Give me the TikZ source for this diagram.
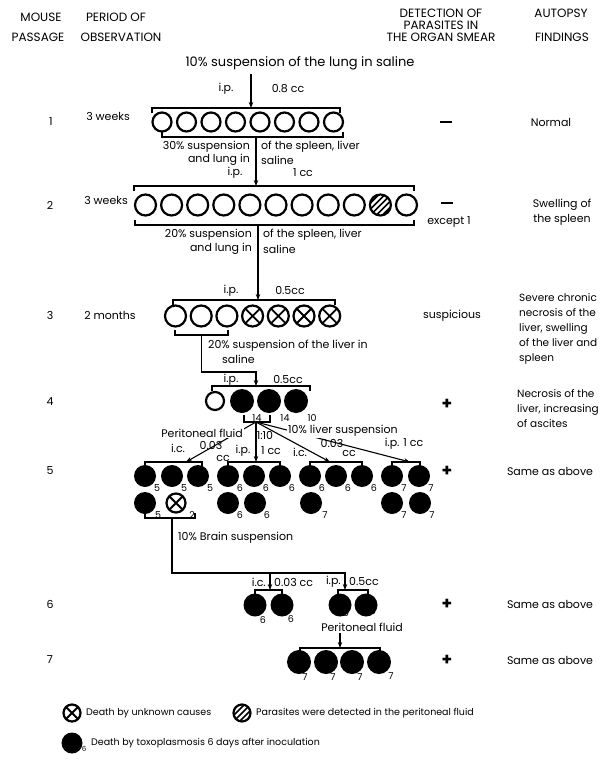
\documentclass[tikz,border=0pt]{standalone}
\usepackage{fontspec}
\setmainfont{Poppins}
\usetikzlibrary{arrows.meta}
\newcommand\mybrk[4]{\draw[brk] (#1,#4) -- (#1,#3) -- (#2,#3) -- (#2,#4);}
\begin{document}
\begin{tikzpicture}[x=1pt,y=-1pt,
  t/.style={font=\fontsize{11}{12}\selectfont, inner sep=0pt},
  tw/.style={t, fill=white, inner sep=1pt},
  hd/.style={font=\fontsize{12}{13}\selectfont, inner sep=0pt},
  nm/.style={font=\fontsize{9.5}{10}\selectfont, inner sep=0pt},
  lg/.style={font=\fontsize{9.5}{11}\selectfont, inner sep=0pt, anchor=west},
  blk/.style={t, align=left, anchor=north west, font=\fontsize{10.5}{15}\selectfont},
  oc/.style={circle, draw, fill=white, line width=2.2pt, minimum size=19pt, inner sep=0pt},
  xc/.style={oc, path picture={\draw[line width=1.8pt]
      (path picture bounding box.south west) -- (path picture bounding box.north east)
      (path picture bounding box.north west) -- (path picture bounding box.south east);}},
  hc/.style={oc, path picture={\foreach \k in {-9,-6,-3,0,3,6,9}{\draw[line width=1.6pt]
      ([xshift=\k pt, yshift=-\k pt]path picture bounding box.center) ++(-14pt,-14pt) -- ++(28pt,28pt);}}},
  bc/.style={circle, fill=black, minimum size=22pt, inner sep=0pt},
  brk/.style={line width=1.1pt},
  arr/.style={line width=1.1pt, -{Stealth[length=6pt,width=4.5pt]}},
  pl/.style={font=\fontsize{17}{17}\selectfont\bfseries, inner sep=0pt},
  mi/.style={inner sep=0pt}
]
\useasboundingbox (0,0) rectangle (610,760);

% ---------- header ----------
\node[hd] (hm1) at (41,17) {MOUSE};
\node[hd] (hm2) at (38,37) {PASSAGE};
\node[hd] (hp1) at (116,17) {PERIOD OF};
\node[hd] (hp2) at (121,37) {OBSERVATION};
\node[hd] (hd1) at (441,13) {DETECTION OF};
\node[hd] (hd2) at (441,25) {PARASITES IN};
\node[hd] (hd3) at (441,37) {THE ORGAN SMEAR};
\node[hd] (ha1) at (561,13) {AUTOPSY};
\node[hd] (ha2) at (562,37) {FINDINGS};

% ---------- row labels ----------
\node[t] (p1) at (51,122) {1};
\node[t] (p2) at (50,205) {2};
\node[t] (p3) at (50,315) {3};
\node[t] (p4) at (50,402) {4};
\node[t] (p5) at (50,471) {5};
\node[t] (p6) at (50,604) {6};
\node[t] (p7) at (50,660) {7};
\node[t] (o1) at (108,116) {3 weeks};
\node[t] (o2) at (106,200) {3 weeks};
\node[t] (o3) at (110,315) {2 months};

% ---------- detection column ----------
\node[mi] (d1) at (446,122) {\rule{12pt}{2.6pt}};
\node[mi] (d2) at (447,203) {\rule{12pt}{2.6pt}};
\node[t] (d2b) at (449,222) {except 1};
\node[t] (d3) at (452,316) {suspicious};
\node[pl] (d4) at (447,404) {+};
\node[pl] (d5) at (447,471) {+};
\node[pl] (d6) at (447,604) {+};
\node[pl] (d7) at (447,660) {+};

% ---------- autopsy column ----------
\node[t] (a1) at (551,122) {Normal};
\node[t, align=center, font=\fontsize{11}{15}\selectfont] (a2) at (562,212) {Swelling of\\the spleen};
\node[blk] (a3) at (519,293) {Severe chronic\\necrosis of the\\liver, swelling\\of the liver and\\spleen};
\node[blk] (a4) at (517,389) {Necrosis of the\\liver, increasing\\of ascites};
\node[t] (a5) at (550,471) {Same as above};
\node[t] (a6) at (550,604) {Same as above};
\node[t] (a7) at (550,660) {Same as above};

% ---------- passage 1 ----------
\node[t, font=\fontsize{13}{14}\selectfont] (ti) at (300,63) {10\% suspension of the lung in saline};
\coordinate (a0s) at (251,74);
\coordinate (a0e) at (251,108);
\draw[arr] (a0s) -- (a0e);
\node[t] (ip1) at (226,89) {i.p.};
\node[t] (cc1) at (288,89) {0.8 cc};
\mybrk{152}{340}{108}{113}
\foreach \i in {0,...,7} \node[oc] (r1c\i) at ({162+24.5*\i},122) {};
\mybrk{162}{343}{137}{132}

% ---------- passage 2 ----------
\coordinate (a1s) at (256,137);
\coordinate (a1e) at (256,186);
\draw[arr] (a1s) -- (a1e);
\node[t, anchor=east] (s2a) at (250,147) {30\% suspension};
\node[t, anchor=west] (s2b) at (261,147) {of the spleen, liver};
\node[t, anchor=east] (s2c) at (250,160) {and lung in};
\node[t, anchor=west] (s2d) at (261,160) {saline};
\node[t] (ip2) at (235,173) {i.p.};
\node[t] (cc2) at (303,173) {1 cc};
\mybrk{134}{414}{186}{191}
\foreach \i in {0,...,8,10} \node[oc, minimum size=21pt] (r2c\i) at ({145.5+26.1*\i},205) {};
\node[hc, minimum size=21pt] (r2c9) at ({145.5+26.1*9},205) {};
\mybrk{135}{414}{225}{220}

% ---------- passage 3 ----------
\coordinate (a2s) at (258,225);
\coordinate (a2e) at (258,300);
\draw[arr] (a2s) -- (a2e);
\node[t, anchor=east] (s3a) at (252,235) {20\% suspension};
\node[t, anchor=west] (s3b) at (263,235) {of the spleen, liver};
\node[t, anchor=east] (s3c) at (252,249) {and lung in};
\node[t, anchor=west] (s3d) at (263,249) {saline};
\node[t] (ip3) at (231,291) {i.p.};
\node[t] (cc3) at (290,291) {0.5cc};
\mybrk{173}{335}{300}{305}
\foreach \i in {0,1,2} \node[oc, minimum size=21pt] (r3c\i) at ({175.5+25.7*\i},316) {};
\foreach \i in {3,...,6} \node[xc, minimum size=21pt] (r3c\i) at ({175.5+25.7*\i},316) {};
\mybrk{175}{228}{335}{330}

% ---------- passage 4 ----------
\coordinate (b3) at (201.5,335);
\coordinate (a3e) at (256,386);
\draw[arr] (b3) |- (256,372) -- (a3e);
\node[t, anchor=west] (s4a) at (208,346) {20\% suspension of the liver in};
\node[t, anchor=west] (s4b) at (222,359) {saline};
\node[t] (ip4) at (231,380) {i.p.};
\node[t] (cc4) at (288,380) {0.5cc};
\mybrk{212}{310}{386}{391}
\node[oc, minimum size=18pt] (r4c0) at (215,401) {};
\node[bc, minimum size=24pt] (r4c1) at (242,401) {};
\node[bc, minimum size=24pt] (r4c2) at (269,401) {};
\node[bc, minimum size=24pt] (r4c3) at (296,401) {};
\node[nm] (r4n1) at (257,418) {14};
\node[nm] (r4n2) at (285,418) {14};
\node[nm] (r4n3) at (312,418) {10};
\mybrk{244}{270}{422}{415}

% ---------- passage 5 ----------
\coordinate (S) at (256,422);
\coordinate (g1t) at (186,462);
\coordinate (g2t) at (256,462);
\coordinate (g3t) at (330,462);
\coordinate (g4t) at (410,462);
\draw[arr] (S) -- (g1t);
\draw[arr] (S) -- (g2t);
\draw[arr] (S) -- (g3t);
\draw[arr] (S) -- (g4t);
\node[tw, anchor=east] (pf5) at (244,433) {Peritoneal fluid};
\node[t] (r15) at (265,435) {1:10};
\node[tw, anchor=west] (lv5) at (287,431) {10\% liver suspension};
\node[t] (ic51) at (178,448) {i.c.};
\node[t] (v51) at (211,445) {0.03};
\node[t] (c51) at (223,458) {cc};
\node[t] (ip52) at (243,451) {i.p.};
\node[t] (c52) at (271,451) {1 cc};
\node[t] (ic53) at (300,452) {i.c.};
\node[t] (v53) at (332,443) {0.03};
\node[t] (c53) at (349,453) {cc};
\node[t] (ip54) at (404,444) {i.p. 1 cc};

\mybrk{145}{202}{462}{467}
\mybrk{228}{280}{462}{467}
\mybrk{310}{362}{462}{467}
\mybrk{392}{420}{462}{467}

\foreach \i/\x in {0/145,1/172,2/198} \node[bc] (g1u\i) at (\x,476) {};
\node[bc] (g1l0) at (145,503) {};
\node[xc, minimum size=19pt] (g1l1) at (176,503) {};
\foreach \i/\x in {0/228,1/254,2/280} \node[bc] (g2u\i) at (\x,476) {};
\foreach \i/\x in {0/228,1/255} \node[bc] (g2l\i) at (\x,503) {};
\foreach \i/\x in {0/310,1/336,2/362} \node[bc] (g3u\i) at (\x,476) {};
\node[bc] (g3l0) at (311,503) {};
\foreach \i/\x in {0/392,1/419} \node[bc] (g4u\i) at (\x,476) {};
\foreach \i/\x in {0/392,1/420} \node[bc] (g4l\i) at (\x,503) {};

\node[nm] (n11) at (157,488) {5};
\node[nm] (n12) at (184,488) {5};
\node[nm] (n13) at (210,488) {5};
\node[nm] (n14) at (158,515) {5};
\node[nm] (n15) at (192,515) {2};
\node[nm] (n21) at (240,488) {6};
\node[nm] (n22) at (266,488) {6};
\node[nm] (n23) at (292,488) {6};
\node[nm] (n24) at (240,515) {6};
\node[nm] (n25) at (267,515) {6};
\node[nm] (n31) at (322,488) {6};
\node[nm] (n32) at (348,488) {6};
\node[nm] (n33) at (374,488) {6};
\node[nm] (n34) at (325,515) {7};
\node[nm] (n41) at (404,488) {7};
\node[nm] (n42) at (431,488) {7};
\node[nm] (n43) at (404,515) {7};
\node[nm] (n44) at (432,515) {7};

\mybrk{145}{195}{518}{513}

% ---------- passage 6 ----------
\coordinate (b5) at (172,518);
\coordinate (h6) at (270,573);
\coordinate (e6a) at (270,590);
\coordinate (e6b) at (345,590);
\draw[arr] (b5) |- (345,573) -- (e6b);
\draw[arr] (h6) -- (e6a);
\node[t, anchor=west] (br5) at (178,538) {10\% Brain suspension};
\node[t, anchor=east] (ic6) at (266,582) {i.c.};
\node[t, anchor=west] (c6a) at (274,582) {0.03 cc};
\node[t, anchor=east] (ip6) at (341,582) {i.p.};
\node[t, anchor=west] (c6b) at (349,582) {0.5cc};
\mybrk{255}{282}{590}{595}
\mybrk{338}{368}{590}{595}
\node[bc, minimum size=23pt] (r6c0) at (255,605) {};
\node[bc, minimum size=23pt] (r6c1) at (282,605) {};
\node[bc, minimum size=23pt] (r6c2) at (340,605) {};
\node[bc, minimum size=23pt] (r6c3) at (366,605) {};
\node[nm] (n61) at (263,620) {6};
\node[nm] (n62) at (291,619) {6};
\node[nm] (n63) at (346,613) {6};
\node[nm] (n64) at (373,611) {6};
\node[t] (pf6) at (362,627) {Peritoneal fluid};

% ---------- passage 7 ----------
\coordinate (a7s) at (340,633);
\coordinate (a7e) at (340,648);
\draw[arr] (a7s) -- (a7e);
\mybrk{300}{380}{648}{653}
\foreach \i/\x in {0/299,1/326,2/352,3/379} \node[bc, minimum size=24pt] (r7c\i) at (\x,662) {};
\node[nm] (n71) at (305,677) {7};
\node[nm] (n72) at (333,677) {7};
\node[nm] (n73) at (360,677) {7};
\node[nm] (n74) at (391,676) {7};

% ---------- legend ----------
\node[xc, minimum size=17pt] (lx) at (72,713) {};
\node[lg] (lxt) at (86,713) {Death by unknown causes};
\node[hc, minimum size=17pt] (lh) at (242,713) {};
\node[lg] (lht) at (256,713) {Parasites were detected in the peritoneal fluid};
\node[bc, minimum size=21pt] (lb) at (72,743) {};
\node[nm, font=\fontsize{7}{7}\selectfont] (lb6) at (84,749) {6};
\node[lg] (lbt) at (91,743) {Death by toxoplasmosis 6 days after inoculation};
\end{tikzpicture}
\end{document}
